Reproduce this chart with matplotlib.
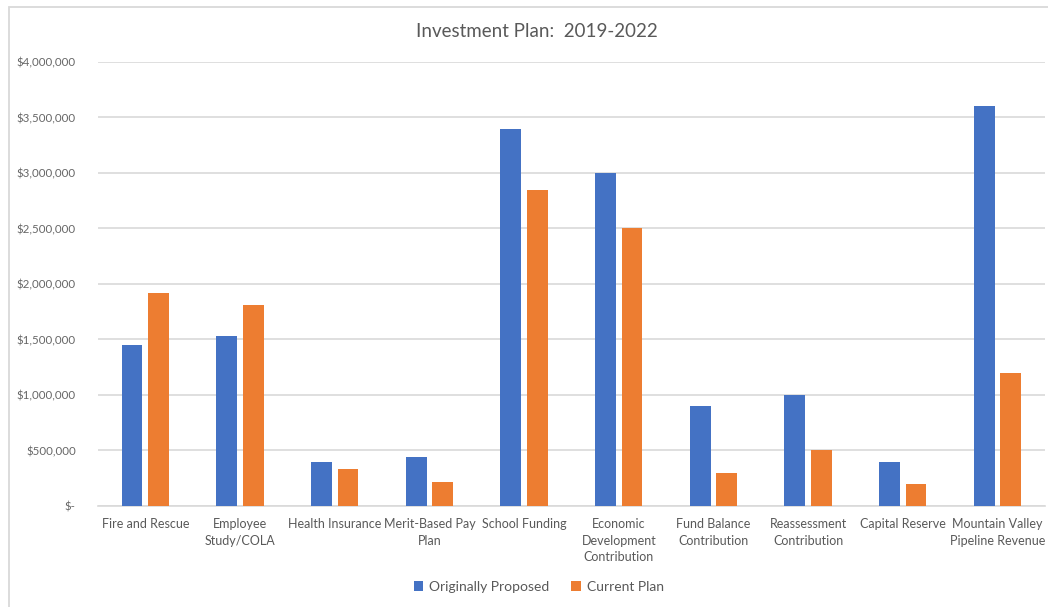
import matplotlib.pyplot as plt
import numpy as np
from matplotlib.patches import Rectangle
from matplotlib.ticker import FuncFormatter

# Investment plan by category, dollars
categories = [
    "Fire and Rescue",
    "Employee\nStudy/COLA",
    "Health Insurance",
    "Merit-Based Pay\nPlan",
    "School Funding",
    "Economic\nDevelopment\nContribution",
    "Fund Balance\nContribution",
    "Reassessment\nContribution",
    "Capital Reserve",
    "Mountain Valley\nPipeline Revenue",
]
originally_proposed = [1450000, 1530000, 400000, 445000, 3400000,
                       3000000, 900000, 1000000, 400000, 3600000]
current_plan = [1920000, 1810000, 330000, 220000, 2850000,
                2500000, 300000, 500000, 200000, 1200000]

BLUE = "#4472c4"
ORANGE = "#ed7d31"
TEXT = "#595959"
GRID = "#d9d9d9"

plt.rcParams["font.family"] = ["Lato", "DejaVu Sans"]

fig = plt.figure(figsize=(10.48, 6.07), dpi=100)
ax = fig.add_axes([0.0935, 0.1664, 0.9035, 0.7316])

x = np.arange(len(categories))
width = 0.22
gap = 0.06
ax.bar(x - (width + gap) / 2, originally_proposed, width, color=BLUE,
       label="Originally Proposed", zorder=3)
ax.bar(x + (width + gap) / 2, current_plan, width, color=ORANGE,
       label="Current Plan", zorder=3)

ax.set_xlim(-0.5, len(categories) - 0.5)
ax.set_ylim(0, 4000000)
ax.set_yticks(np.arange(0, 4000001, 500000))


def money(v, pos):
    if v == 0:
        return "$-"
    return f"${v:,.0f}"


ax.yaxis.set_major_formatter(FuncFormatter(money))
ax.grid(axis="y", color=GRID, linewidth=1.2, zorder=0)
for side in ("top", "right", "left"):
    ax.spines[side].set_visible(False)
ax.spines["bottom"].set_color(GRID)
ax.spines["bottom"].set_linewidth(1.2)

ax.set_xticks(x)
ax.set_xticklabels(categories, fontsize=9, color=TEXT, linespacing=1.45,
                   va="top")
ax.tick_params(axis="x", length=0, pad=9)
ax.tick_params(axis="y", length=0, pad=16, labelsize=8.3, labelcolor="#666666")

fig.text(0.512, 0.948, "Investment Plan:  2019-2022", ha="center",
         va="center", fontsize=13.5, color=TEXT)

fig.legend(loc="center", bbox_to_anchor=(0.514, 0.033), ncol=2,
           frameon=False, fontsize=10, labelcolor=TEXT, handlelength=0.7,
           handleheight=0.7, handletextpad=0.4, columnspacing=1.6)

# chart frame
fig.patches.append(Rectangle((0.0082, -0.05), 1.1, 1.0385, transform=fig.transFigure,
                             fill=False, edgecolor=GRID, linewidth=1.3))

fig.savefig("out.png", dpi=100, facecolor="white")
